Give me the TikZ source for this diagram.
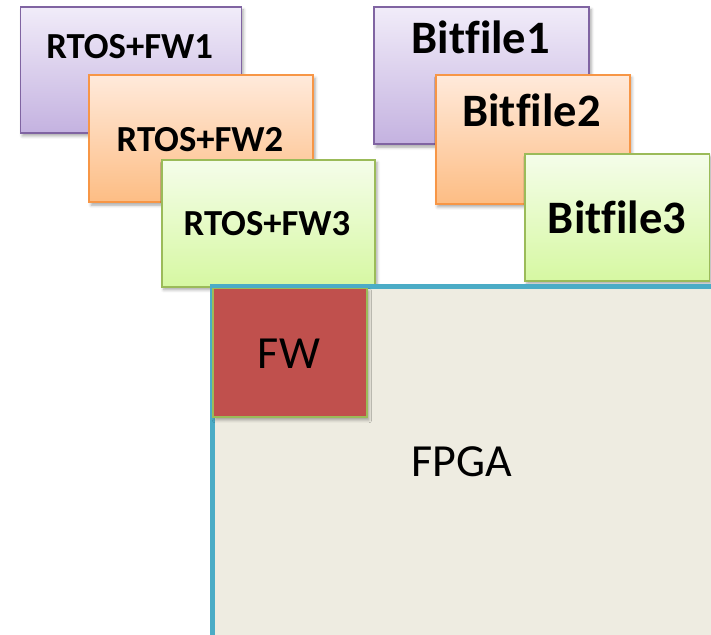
\documentclass[tikz,border=0pt]{standalone}
\usepackage{fontspec}
\setmainfont[Ligatures=NoCommon]{Carlito}
\usetikzlibrary{shadows.blur}
\definecolor{pbord}{HTML}{8064A2}
\definecolor{ptop}{HTML}{F1ECF9}
\definecolor{pbot}{HTML}{C4B2E0}
\definecolor{obord}{HTML}{F79646}
\definecolor{otop}{HTML}{FFEADB}
\definecolor{obot}{HTML}{FDBD84}
\definecolor{gbord}{HTML}{9BBB59}
\definecolor{gtop}{HTML}{F5FDEA}
\definecolor{gbot}{HTML}{D6F8A2}
\definecolor{fpgafill}{HTML}{EEECE1}
\definecolor{fpgabord}{HTML}{4BACC6}
\definecolor{fwfill}{HTML}{C0504D}
\tikzset{
  card/.style={draw, rectangle, line width=1.8pt, inner sep=0pt, anchor=north west,
    blur shadow={shadow xshift=2pt, shadow yshift=-3pt, shadow blur radius=3pt, shadow opacity=35}},
  purplecard/.style={card, draw=pbord, top color=ptop, bottom color=pbot},
  orangecard/.style={card, draw=obord, top color=otop, bottom color=obot},
  greencard/.style={card, draw=gbord, top color=gtop, bottom color=gbot},
  rtoslbl/.style={anchor=base, inner sep=0pt, font=\bfseries\fontsize{36.7}{40}\selectfont},
  bitlbl/.style={anchor=base, inner sep=0pt, font=\bfseries\fontsize{46.5}{50}\selectfont},
  biglbl/.style={anchor=base, inner sep=0pt, font=\fontsize{46}{50}\selectfont},
}
\begin{document}
\begin{tikzpicture}[x=1pt,y=-1pt]
\useasboundingbox (0,0) rectangle (711,634);
\begin{scope}
\clip (0,0) rectangle (711,634);
% RTOS cards
\node[purplecard, minimum width=221pt, minimum height=126pt] (r1) at (19.5,6) {};
\node[rtoslbl] (r1t) at (129.7,59) {RTOS+FW1};
\node[orangecard, minimum width=224pt, minimum height=127pt] (r2) at (88.3,74.3) {};
\node[rtoslbl] (r2t) at (200,151.7) {RTOS+FW2};
\node[greencard, minimum width=213.5pt, minimum height=127pt] (r3) at (160.8,158.8) {};
\node[rtoslbl] (r3t) at (267,235) {RTOS+FW3};
% Bitfile cards
\node[purplecard, minimum width=215pt, minimum height=137.5pt] (b1) at (373.3,5.8) {};
\node[bitlbl] (b1t) at (480.8,53.3) {Bitfile1};
\node[orangecard, minimum width=194pt, minimum height=129.3pt] (b2) at (434.7,73.7) {};
\node[bitlbl] (b2t) at (531.5,126.7) {Bitfile2};
\node[greencard, minimum width=184.5pt, minimum height=127.3pt] (b3) at (524,152.7) {};
\node[bitlbl] (b3t) at (617,233.3) {Bitfile3};
% FPGA
\node[draw=fpgabord, fill=fpgafill, line width=5pt, rectangle, inner sep=0pt, anchor=north west,
      minimum width=502pt, minimum height=351pt] (fpga) at (209.5,283.5) {};
\node[biglbl] (fpgat) at (461.7,476) {FPGA};
% FW
\node[draw=gbord, fill=fwfill, line width=1.8pt, rectangle, inner sep=0pt, anchor=north west,
      minimum width=153.5pt, minimum height=128.5pt,
      blur shadow={shadow xshift=2pt, shadow yshift=-3pt, shadow blur radius=3pt, shadow opacity=35}] (fw) at (212.3,287.5) {};
\node[biglbl] (fwt) at (289,368) {FW};
\end{scope}
\end{tikzpicture}
\end{document}
